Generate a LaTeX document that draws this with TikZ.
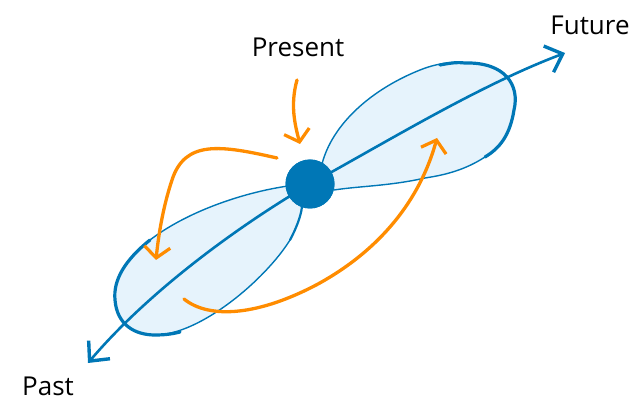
\documentclass[tikz,border=0pt]{standalone}
\usepackage{fontspec}
\setmainfont{Open Sans}
\usetikzlibrary{arrows.meta}
\definecolor{myblue}{RGB}{0,119,182}
\definecolor{lobefill}{RGB}{230,243,252}
\definecolor{myorange}{RGB}{255,140,0}
\tikzset{
  lobe/.style={fill=lobefill},
  thinedge/.style={draw=myblue, line width=1.4pt},
  thickedge/.style={draw=myblue, line width=3.2pt, line cap=round},
  axisline/.style={draw=myblue, line width=2.6pt, line cap=round,
    {Straight Barb[length=15pt,width=28pt,line width=3.4pt]}-{Straight Barb[length=15pt,width=28pt,line width=3.4pt]}},
  moveline/.style={draw=myorange, line width=3.3pt, line cap=round,
    -{Straight Barb[length=11pt,width=26pt,line width=3.2pt]}},
  label/.style={font=\fontsize{26}{30}\selectfont, text=black, inner sep=0pt},
  dot/.style={circle, fill=myblue, minimum size=49pt, inner sep=0pt}
}
\begin{document}
\begin{tikzpicture}[x=1pt,y=-1pt]
\useasboundingbox (0,0) rectangle (637,403);
% upper lobe
\path[lobe] (322,164) .. controls (332,125) and (370,90) .. (420,70)
  .. controls (440,62) and (455,62) .. (465,63)
  .. controls (505,62) and (520,85) .. (514,110)
  .. controls (510,135) and (500,148) .. (485,157)
  .. controls (465,170) and (445,175) .. (425,178)
  .. controls (390,186) and (360,186) .. (334,190) -- (310,184) -- cycle;
\draw[thinedge] (322,164) .. controls (332,125) and (370,90) .. (420,70)
  .. controls (440,62) and (455,62) .. (465,63);
\draw[thickedge] (440,65) .. controls (450,63) and (458,62) .. (465,63)
  .. controls (505,62) and (520,85) .. (514,110)
  .. controls (510,135) and (500,148) .. (485,157);
\draw[thinedge] (485,157) .. controls (465,170) and (445,175) .. (425,178)
  .. controls (390,186) and (360,186) .. (334,190);
% lower lobe
\path[lobe] (288,186) .. controls (240,193) and (185,213) .. (150,240)
  .. controls (125,260) and (113,280) .. (115,300)
  .. controls (117,325) and (135,335) .. (155,335)
  .. controls (200,335) and (265,280) .. (290,240)
  .. controls (298,225) and (302,212) .. (302,205) -- (310,184) -- cycle;
\draw[thinedge] (288,186) .. controls (240,193) and (185,213) .. (150,240);
\draw[thickedge] (150,240) .. controls (125,260) and (113,280) .. (115,300)
  .. controls (117,325) and (135,335) .. (155,335) .. controls (165,335) and (172,334) .. (180,332);
\draw[thinedge] (155,335) .. controls (200,335) and (265,280) .. (290,240);
\draw[thickedge, line width=2.2pt] (290,240) .. controls (298,225) and (302,212) .. (302,205);
% nodes
\node[dot] (now) at (310,184) {};
\coordinate (pasttip) at (88,363);
\coordinate (futtip) at (565,53);
\draw[axisline] (pasttip) .. controls (150,290) and (240,225) .. (now.center)
  .. controls (390,140) and (480,85) .. (futtip);
\node[dot] at (now) {};
\node[label] (present) at (298,47) {Present};
\node[label] (future) at (590,25) {Future};
\node[label] (past) at (48,386) {Past};
% orange arrows
\coordinate (a1s) at (297,80);
\coordinate (a1e) at (300,144);
\draw[moveline] (a1s) .. controls (290,105) and (295,125) .. (a1e);
\coordinate (a2s) at (277,158);
\coordinate (a2e) at (156,260);
\draw[moveline] (a2s) .. controls (220,145) and (185,140) .. (172,180)
  .. controls (162,210) and (158,240) .. (a2e);
\coordinate (a3s) at (184,299);
\coordinate (a3e) at (437,138);
\draw[moveline] (a3s) .. controls (210,320) and (260,315) .. (318,284)
  .. controls (380,250) and (420,200) .. (a3e);
\end{tikzpicture}
\end{document}
